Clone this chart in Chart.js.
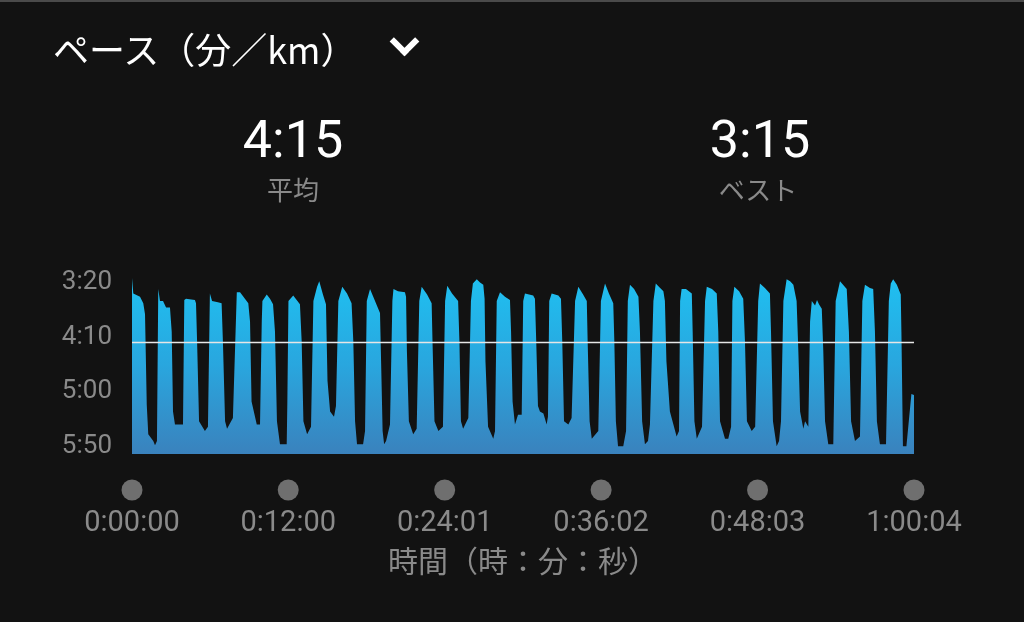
<!DOCTYPE html>
<html>
<head>
<meta charset="utf-8">
<script src="https://cdn.jsdelivr.net/npm/chart.js@4"></script>
<style>
  html, body { margin: 0; padding: 0; background: #121212; }
  #wrap { position: relative; width: 1024px; height: 622px; overflow: hidden; background: #121212; border-top: 2px solid #4a4a4a; box-sizing: border-box; }
  #myChart { position: absolute; left: 0; top: 0; }
  .txt { position: absolute; transform: translate(-50%, -50%); white-space: nowrap; }
  .jp { font-family: "Noto Sans CJK JP", sans-serif; }
  .num { font-family: Roboto, "Liberation Sans", sans-serif; color: #fff; font-size: 52px; }
  .sub { font-size: 26px; color: #8a8a8a; }
  #titulo { position: absolute; left: 53px; top: 46px; transform: translateY(-50%); color: #fff; font-size: 36px; }
  #seta { position: absolute; left: 394px; top: 29px; width: 15px; height: 15px; border-right: 6px solid #fff; border-bottom: 6px solid #fff; transform: rotate(45deg); }
</style>
</head>
<body>
<div id="wrap">
  <canvas id="myChart" width="1024" height="622"></canvas>
  <div id="titulo" class="jp">ペース（分／km）</div>
  <div id="seta"></div>
  <div class="txt num" style="left:293px; top:137px;">4:15</div>
  <div class="txt jp sub" style="left:293px; top:186px;">平均</div>
  <div class="txt num" style="left:760px; top:137px;">3:15</div>
  <div class="txt jp sub" style="left:758px; top:186px;">ベスト</div>
</div>
<script>
// tempo em segundos (eixo x) e ritmo em segundos por km (eixo y)
var times = [
  0, 6, 37, 52, 60, 68, 75, 98, 106, 115,
  121, 129, 143, 157, 175, 183, 189, 198, 235,
  241, 249, 290, 295, 300, 309, 336, 350,
  359, 369, 396, 413, 419, 429, 438, 465,
  483, 498, 536, 544, 551, 575, 590,
  598, 601, 621, 636, 650, 659, 668, 682, 713,
  716, 721, 743, 774, 782, 790, 807, 825,
  836, 853, 863, 880, 894, 901, 913, 931, 940,
  951, 969, 991, 1012, 1020, 1028, 1037, 1065, 1074,
  1082, 1097, 1120, 1143, 1148, 1155, 1162, 1171, 1189,
  1200, 1205, 1226, 1258, 1263, 1267, 1276, 1296, 1312,
  1324, 1335, 1360, 1381, 1385, 1394, 1412, 1433,
  1443, 1453, 1475, 1503, 1509, 1516, 1526, 1550,
  1562, 1571, 1589, 1604, 1619, 1625, 1629, 1641, 1665, 1673,
  1681, 1696, 1719, 1742, 1747, 1754, 1765, 1779, 1796,
  1803, 1811, 1849, 1857, 1863, 1871, 1880, 1896, 1911, 1917,
  1923, 1934, 1965, 1977, 1983, 1991, 2011, 2026,
  2042, 2057, 2079, 2096, 2100, 2109, 2119, 2149,
  2161, 2180, 2198, 2218, 2223, 2230, 2240, 2264, 2277,
  2285, 2295, 2314, 2334, 2341, 2351, 2364, 2378, 2387,
  2403, 2414, 2434, 2449, 2456, 2463, 2479, 2510, 2521,
  2526, 2533, 2553, 2580, 2584, 2592, 2603, 2627,
  2641, 2649, 2673, 2695, 2702, 2710, 2733, 2748, 2761,
  2767, 2776, 2798, 2817, 2825, 2834, 2856, 2872,
  2886, 2894, 2917, 2940, 2945, 2954, 2971, 2982, 2991,
  3002, 3017, 3033, 3048, 3063, 3071, 3079, 3094, 3102, 3117,
  3125, 3133, 3148, 3157, 3166, 3179, 3186, 3194, 3209, 3232,
  3243, 3263, 3277, 3294, 3304, 3314, 3332, 3355,
  3366, 3378, 3401, 3416, 3424, 3433, 3447, 3475,
  3488, 3497, 3508, 3525, 3543, 3546, 3553, 3569, 3580, 3592, 3604
];
var paces = [
  196, 210, 213, 219, 229, 312, 339, 345, 349, 345,
  206, 217, 217, 223, 223, 245, 318, 330, 330,
  216, 215, 216, 219, 254, 327, 336, 332,
  210, 217, 218, 219, 254, 327, 334, 324,
  209, 209, 219, 236, 309, 330, 330,
  236, 217, 211, 215, 220, 245, 327, 348, 348,
  309, 217, 212, 220, 254, 327, 339, 332,
  217, 204, 199, 211, 220, 290, 318, 323, 313,
  217, 204, 210, 219, 254, 327, 348, 348, 336,
  217, 206, 217, 228, 272, 336, 348, 345, 330,
  217, 206, 208, 209, 213, 263, 327, 339, 334,
  217, 204, 211, 219, 254, 327, 336, 332,
  217, 203, 210, 217, 254, 327, 334, 324,
  217, 201, 197, 200, 202, 215, 272, 332, 343, 336,
  217, 209, 213, 216, 245, 309, 330, 321, 321,
  217, 210, 212, 215, 254, 313, 318, 320, 330, 323,
  217, 210, 212, 215, 254, 327, 330, 324,
  217, 204, 211, 217, 254, 327, 343, 336,
  217, 201, 210, 219, 254, 327, 350, 350, 336,
  217, 202, 206, 213, 245, 327, 348, 345, 330,
  217, 201, 205, 208, 217, 272, 318, 341, 336,
  217, 206, 206, 210, 245, 327, 343, 332,
  217, 204, 206, 210, 245, 327, 343, 343, 332,
  217, 204, 208, 215, 254, 327, 336, 332,
  217, 201, 205, 210, 245, 327, 350, 345, 327,
  217, 197, 199, 202, 217, 263, 318, 334, 327, 332,
  236, 217, 221, 216, 220, 224, 263, 327, 348, 348,
  217, 199, 202, 206, 245, 327, 345, 341,
  217, 202, 205, 206, 245, 327, 348, 348,
  217, 201, 197, 202, 211, 245, 350, 350, 327, 302, 303
];
var avgPace = 255;   // 4:15
var yTickValues = [200, 250, 300, 350];
var yTickLabels = ['3:20', '4:10', '5:00', '5:50'];
var xTickValues = [0, 720, 1441, 2162, 2883, 3604];
var xTickLabels = ['0:00:00', '0:12:00', '0:24:01', '0:36:02', '0:48:03', '1:00:04'];

var pontos = [];
for (var i = 0; i < times.length; i++) {
  pontos.push({ x: times[i], y: paces[i] });
}

// bolinhas cinzas em cima dos rótulos do eixo x
const dotsPlugin = {
  id: 'dots',
  afterDraw(chart) {
    const xs = chart.scales.x;
    const c = chart.ctx;
    c.save();
    c.fillStyle = '#6f6f6f';
    xTickValues.forEach(function (v) {
      c.beginPath();
      c.arc(xs.getPixelForValue(v), chart.chartArea.bottom + 36, 10.5, 0, Math.PI * 2);
      c.fill();
    });
    c.restore();
  }
};

const ctx = document.getElementById('myChart');

new Chart(ctx, {
  type: 'line',
  data: {
    datasets: [{
      label: 'média',
      data: [{ x: 0, y: avgPace }, { x: 3604, y: avgPace }],
      borderColor: '#e6e6e6',
      borderWidth: 1.5,
      pointRadius: 0,
      fill: false
    }, {
      label: 'ritmo',
      data: pontos,
      borderWidth: 0,
      pointRadius: 0,
      tension: 0,
      fill: 'start',
      backgroundColor: function (context) {
        const chart = context.chart;
        const area = chart.chartArea;
        if (!area) return '#2aa3dc';
        const g = chart.ctx.createLinearGradient(0, area.top, 0, area.bottom);
        g.addColorStop(0, '#1fc0f1');
        g.addColorStop(0.5, '#29a6de');
        g.addColorStop(1, '#3a82bd');
        return g;
      }
    }]
  },
  options: {
    responsive: false,
    animation: false,
    layout: { padding: { top: 275, right: 110, left: 0, bottom: 0 } },
    plugins: {
      legend: { display: false },
      tooltip: { enabled: false }
    },
    scales: {
      x: {
        type: 'linear',
        min: 0,
        max: 3604,
        afterBuildTicks: function (scale) {
          scale.ticks = xTickValues.map(function (v) { return { value: v }; });
        },
        afterFit: function (scale) { scale.height = 170; },
        grid: { display: false, drawTicks: false },
        border: { display: false },
        ticks: {
          autoSkip: false,
          maxRotation: 0,
          padding: 52,
          color: '#8a8a8a',
          font: { family: 'Roboto', size: 29 },
          callback: function (value, index) { return xTickLabels[index]; }
        },
        title: {
          display: true,
          text: '時間（時：分：秒）',
          color: '#8a8a8a',
          font: { family: 'Noto Sans CJK JP', size: 30 },
          padding: { top: 0, bottom: 45 }
        }
      },
      y: {
        type: 'linear',
        reverse: true,
        min: 195,
        max: 357,
        afterBuildTicks: function (scale) {
          scale.ticks = yTickValues.map(function (v) { return { value: v }; });
        },
        afterFit: function (scale) { scale.width = 132; },
        grid: { display: false, drawTicks: false },
        border: { display: false },
        ticks: {
          padding: 20,
          color: '#8a8a8a',
          font: { family: 'Roboto', size: 26 },
          callback: function (value, index) { return yTickLabels[index]; }
        }
      }
    }
  },
  plugins: [dotsPlugin]
});
</script>
</body>
</html>
